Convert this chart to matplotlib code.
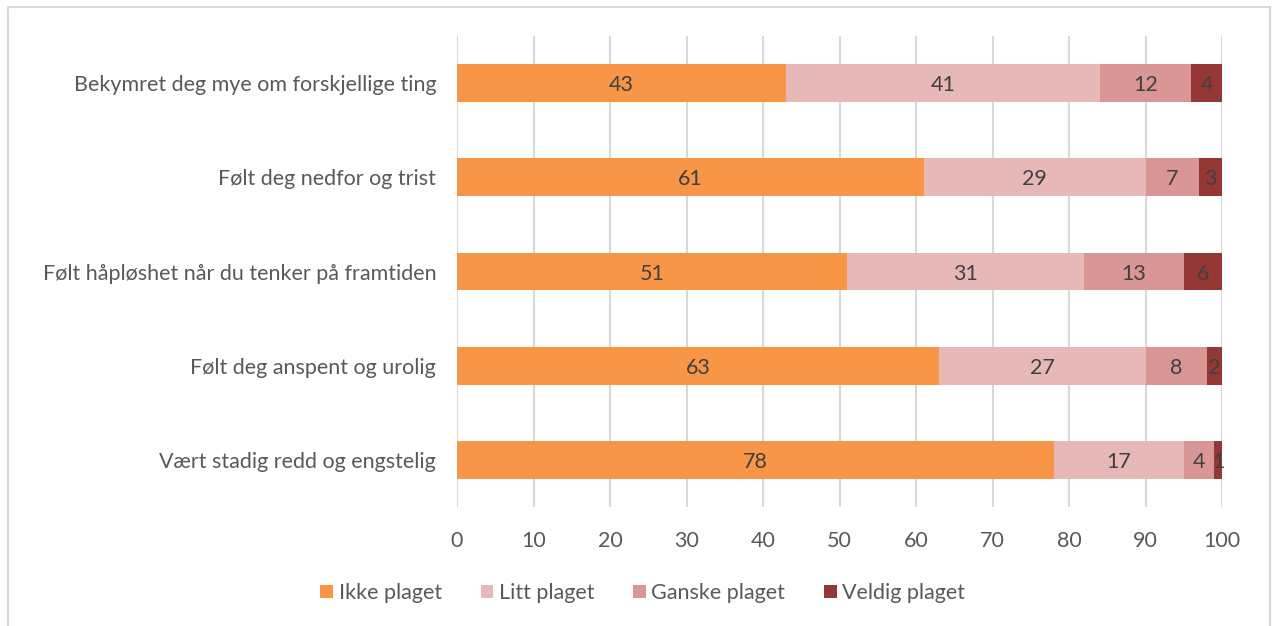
import numpy as np
import matplotlib.pyplot as plt
from matplotlib.patches import Rectangle

plt.rcParams['font.family'] = ['Lato', 'DejaVu Sans']

# data, top row first
categories = ["Bekymret deg mye om forskjellige ting",
              "Følt deg nedfor og trist",
              "Følt håpløshet når du tenker på framtiden",
              "Følt deg anspent og urolig",
              "Vært stadig redd og engstelig"]
ikke    = [43, 61, 51, 63, 78]
litt    = [41, 29, 31, 27, 17]
ganske  = [12, 7, 13, 8, 4]
veldig  = [4, 3, 6, 2, 1]
series_names = ["Ikke plaget", "Litt plaget", "Ganske plaget", "Veldig plaget"]
colors = ["#F79646", "#E6B9B8", "#D99694", "#953735"]

fig = plt.figure(figsize=(12.73, 6.26), dpi=100)
ax = fig.add_axes([457/1273, 1 - 507/626, (1222 - 457)/1273, (507 - 36)/626])

# outer chart border (light grey)
fig.patches.append(Rectangle((8/1273, -0.05), (1270 - 8)/1273, 1.05 - 7/626,
                             transform=fig.transFigure, fill=False,
                             edgecolor="#d9d9d9", linewidth=1.5))

y = np.arange(len(categories))
left = np.zeros(len(categories))
for vals, name, c in zip([ikke, litt, ganske, veldig], series_names, colors):
    bars = ax.barh(y, vals, left=left, height=0.4, color=c, label=name, zorder=3)
    txt = ax.bar_label(bars, labels=[str(v) for v in vals], label_type='center',
                       color="#404040", fontsize=15.5)
    for t in txt:
        t.set_va('center_baseline')
    left += np.array(vals)

ax.set_ylim(len(categories) - 0.5, -0.5)
ax.set_xlim(0, 100)
ax.set_xticks(np.arange(0, 101, 10))
ax.set_yticks(y)
ax.set_yticklabels(categories)
ax.tick_params(axis='both', length=0, labelsize=15.5, colors="#595959")
ax.tick_params(axis='y', pad=15)
ax.tick_params(axis='x', pad=17)
ax.grid(axis='x', color="#d9d9d9", linewidth=1.5, zorder=0)
for s in ax.spines.values():
    s.set_visible(False)

fig.legend(loc='center', bbox_to_anchor=(0.505, 1 - 593/626), ncol=4, frameon=False,
           fontsize=15.5, labelcolor="#595959", handlelength=0.6, handleheight=0.6,
           handletextpad=0.25, columnspacing=1.8)

fig.savefig("out.png", dpi=100)
